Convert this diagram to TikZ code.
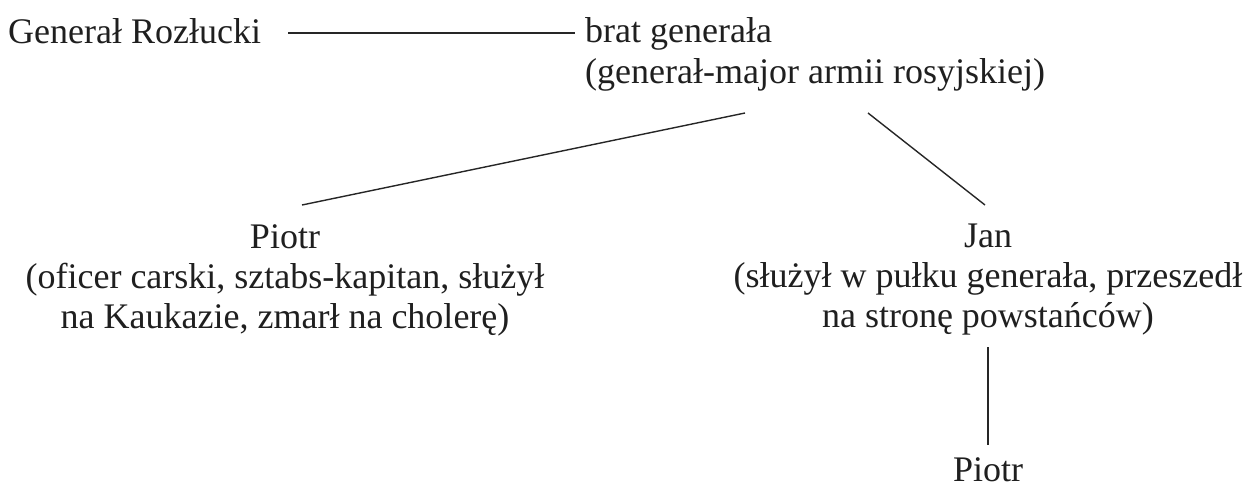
\documentclass[tikz,border=0pt]{standalone}
\usepackage{fontspec}
\setmainfont{Liberation Serif}
\begin{document}
\begin{tikzpicture}[x=1pt,y=1pt,
  every node/.style={font=\fontsize{36}{40}\selectfont, inner sep=0pt, text=black!88},
  conn/.style={line width=1.4pt, draw=black!85}]
\useasboundingbox (0,0) rectangle (1250,-490);
\node[anchor=base west] (gen) at (8,-43) {Generał Rozłucki};
\node[anchor=north west, align=left] (brat) at (585,-17) {brat generała\\[1pt](generał-major armii rosyjskiej)};
\node[anchor=north, align=center] (piotr) at (285,-224) {Piotr\\(oficer carski, sztabs-kapitan, służył\\na Kaukazie, zmarł na cholerę)};
\node[anchor=north, align=center] (jan) at (988,-224) {Jan\\(służył w pułku generała, przeszedł\\na stronę powstańców)};
\node[anchor=base] (piotrb) at (988,-481) {Piotr};
\coordinate (hs) at (288,-33);
\coordinate (bl) at (745,-113);
\coordinate (br) at (868,-113);
\coordinate (pl) at (302,-205);
\coordinate (jr) at (985,-205);
\coordinate (vt) at (0,-347);
\coordinate (vb) at (0,-445);
\draw[conn, shorten >=10pt] (hs) -- (brat.west |- hs);
\draw[conn] (bl) -- (pl);
\draw[conn] (br) -- (jr);
\draw[conn] (jan.south |- vt) -- (piotrb.north |- vb);
\end{tikzpicture}
\end{document}
